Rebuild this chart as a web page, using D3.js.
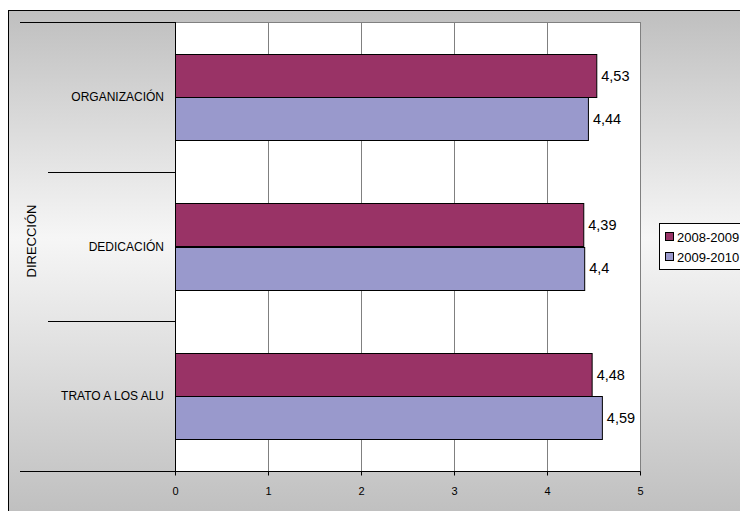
<!DOCTYPE html>
<html>
<head>
<meta charset="utf-8">
<script src="https://cdn.jsdelivr.net/npm/d3@7"></script>
<style>
  html, body { margin: 0; padding: 0; background: #fff; }
  svg { display: block; font-family: Arial, "Liberation Sans", sans-serif; }
</style>
</head>
<body>
<svg id="chart" width="740" height="511"></svg>
<script>
// Survey results, grouped under "DIRECCIÓN"
const groupLabel = "DIRECCIÓN";
const categories = ["ORGANIZACIÓN", "DEDICACIÓN", "TRATO A LOS ALU"];
const seriesNames = ["2008-2009", "2009-2010"];
const values2008 = [4.53, 4.39, 4.48];
const values2010 = [4.44, 4.40, 4.59];
const xTicks = [0, 1, 2, 3, 4, 5];
const colors = ["#993366", "#9999CC"];

const series = [values2008, values2010];
const svg = d3.select("#chart");

// Frame background gradient
const defs = svg.append("defs");
const grad = defs.append("linearGradient")
  .attr("id", "bg").attr("x1", 0).attr("y1", 0).attr("x2", 0).attr("y2", 1);
grad.append("stop").attr("offset", "0%").attr("stop-color", "#bfbfbf");
grad.append("stop").attr("offset", "45%").attr("stop-color", "#f6f6f6");
grad.append("stop").attr("offset", "100%").attr("stop-color", "#bfbfbf");

svg.append("rect")
  .attr("x", 8.5).attr("y", 10.5).attr("width", 740).attr("height", 505)
  .attr("fill", "url(#bg)").attr("stroke", "#000").attr("stroke-width", 1);

const plot = { left: 175, right: 640, top: 22, bottom: 471 };

const x = d3.scaleLinear().domain([0, 5]).range([plot.left, plot.right]);
const y = d3.scaleBand().domain(categories).range([plot.top, plot.bottom]).paddingInner(0).paddingOuter(0);
const inner = d3.scaleBand().domain(seriesNames).range([0, y.bandwidth()]).paddingInner(0).paddingOuter(0.74);

// Plot area
svg.append("rect")
  .attr("x", plot.left + 0.5).attr("y", plot.top + 0.5)
  .attr("width", plot.right - plot.left).attr("height", plot.bottom - plot.top)
  .attr("fill", "#fff").attr("stroke", "#808080").attr("stroke-width", 1);

// Vertical grid lines
svg.append("g").selectAll("line")
  .data(xTicks.slice(1, -1))
  .join("line")
  .attr("x1", d => Math.round(x(d)) + 0.5).attr("x2", d => Math.round(x(d)) + 0.5)
  .attr("y1", plot.top).attr("y2", plot.bottom)
  .attr("stroke", "#808080").attr("stroke-width", 1);

// Bars
series.forEach((vals, si) => {
  svg.append("g").selectAll("rect")
    .data(vals)
    .join("rect")
    .attr("x", plot.left + 0.5)
    .attr("y", (d, i) => Math.round(y(categories[i]) + inner(seriesNames[si])) + 0.5)
    .attr("width", d => x(d) - plot.left)
    .attr("height", Math.round(inner.bandwidth()))
    .attr("fill", colors[si]).attr("stroke", "#000").attr("stroke-width", 1);

  svg.append("g").selectAll("text")
    .data(vals)
    .join("text")
    .attr("x", d => x(d) + 5)
    .attr("y", (d, i) => y(categories[i]) + inner(seriesNames[si]) + inner.bandwidth() / 2)
    .attr("dy", "0.36em")
    .attr("font-size", "14.5px").attr("fill", "#000")
    .text(d => d3.format(".2~f")(d).replace(".", ","));
});

// Bottom axis
const xAxis = d3.axisBottom(x).tickValues(xTicks).tickSize(4).tickFormat(d => d);
const gx = svg.append("g").attr("transform", `translate(0,${plot.bottom + 0.5})`).call(xAxis);
gx.select(".domain").attr("stroke", "#000").attr("d", `M20,0H${plot.right + 0.5}`);
gx.selectAll(".tick line").attr("stroke", "#000");
gx.selectAll(".tick text").attr("font-size", "11px").attr("font-family", "Arial, 'Liberation Sans', sans-serif")
  .attr("fill", "#000").attr("y", 16);

// Left axis line
svg.append("line")
  .attr("x1", plot.left + 0.5).attr("x2", plot.left + 0.5)
  .attr("y1", plot.top).attr("y2", plot.bottom)
  .attr("stroke", "#000");

// Category separators (grouped axis)
const bounds = categories.map(c => y(c)).concat([plot.bottom]);
svg.append("g").selectAll("line")
  .data(bounds)
  .join("line")
  .attr("x1", (d, i) => (i === 0 || i === bounds.length - 1) ? 20 : 48)
  .attr("x2", plot.left)
  .attr("y1", d => Math.round(d) + 0.5).attr("y2", d => Math.round(d) + 0.5)
  .attr("stroke", "#000");

// Category labels
svg.append("g").selectAll("text")
  .data(categories)
  .join("text")
  .attr("x", 164)
  .attr("y", d => y(d) + y.bandwidth() / 2)
  .attr("dy", "0.36em")
  .attr("text-anchor", "end")
  .attr("font-size", "12px").attr("fill", "#000")
  .text(d => d);

// Group label
svg.append("text")
  .attr("transform", `translate(36,241) rotate(-90)`)
  .attr("text-anchor", "middle")
  .attr("font-size", "13px").attr("fill", "#000")
  .text(groupLabel);

// Legend
const legend = svg.append("g");
legend.append("rect")
  .attr("x", 659.5).attr("y", 223.5).attr("width", 90).attr("height", 46)
  .attr("fill", "#fff").attr("stroke", "#000");
seriesNames.forEach((name, i) => {
  legend.append("rect")
    .attr("x", 665.5).attr("y", 232.5 + i * 20).attr("width", 8).attr("height", 8)
    .attr("fill", colors[i]).attr("stroke", "#000");
  legend.append("text")
    .attr("x", 677).attr("y", 237 + i * 20).attr("dy", "0.36em")
    .attr("font-size", "13px").attr("fill", "#000")
    .text(name);
});
</script>
</body>
</html>
